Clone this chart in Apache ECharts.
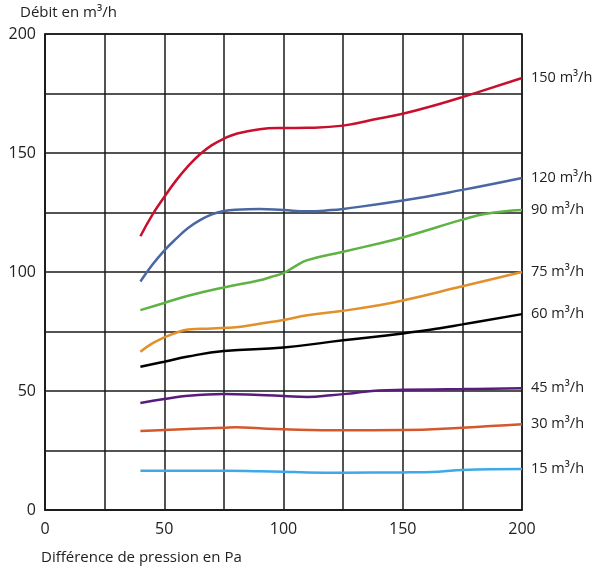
<!DOCTYPE html>
<html><head><meta charset="utf-8">
<script src="https://cdn.jsdelivr.net/npm/echarts@6/dist/echarts.min.js"></script>
<style>html,body{margin:0;padding:0;background:#fff}#c{width:595px;height:571px}</style>
</head><body><div id="c"></div>
<script>
var xTicks = [0, 50, 100, 150, 200];
var yTicks = [0, 50, 100, 150, 200];
var names = ['150 m³/h','120 m³/h','90 m³/h','75 m³/h','60 m³/h','45 m³/h','30 m³/h','15 m³/h'];
var colors = ['#c8102e','#4a67a3','#5fb244','#e38f2a','#000000','#581b7e','#d4582b','#3ea9e8'];
var s150 = [[40,115],[45,124],[50,131.5],[55,138.5],[60,144.5],[65,149.5],[70,153.3],[75,156],[80,158],[90,160],[100,160.5],[110,160.6],[125,161.5],[140,164.5],[150,166.5],[165,170.5],[175,173.5],[200,181.5]];
var s120 = [[40,96],[45,103],[50,109],[55,114],[60,118.5],[65,121.8],[70,124.2],[75,125.6],[80,126.2],[90,126.5],[100,126],[110,125.5],[120,126],[125,126.5],[150,130],[175,134.5],[200,139.5]];
var s90 = [[40,84],[50,87],[60,90],[75,93.5],[90,96.5],[95,98],[100,99.5],[105,102.5],[110,105],[125,108.5],[140,112],[150,114.5],[165,119],[175,122],[185,124.5],[200,126]];
var s75 = [[40,66.5],[45,70],[50,72.5],[55,74.5],[60,75.8],[70,76.3],[80,76.8],[90,78.3],[100,79.8],[110,81.8],[125,83.7],[140,86],[150,88],[175,94],[200,100]];
var s60 = [[40,60.2],[50,62.3],[60,64.5],[75,66.8],[100,68.3],[125,71.3],[150,74.2],[165,76.3],[175,78],[200,82.3]];
var s45 = [[40,45],[50,46.6],[60,48],[75,48.7],[90,48.3],[100,47.9],[110,47.5],[120,48.2],[130,49.2],[140,50.2],[150,50.5],[175,50.8],[200,51.2]];
var s30 = [[40,33.2],[50,33.6],[75,34.6],[80,34.8],[90,34.3],[100,33.9],[125,33.5],[150,33.6],[175,34.6],[200,36]];
var s15 = [[40,16.5],[75,16.5],[90,16.3],[100,16.1],[110,15.8],[125,15.7],[150,15.8],[165,16.1],[175,16.8],[200,17.2]];
var allData = [s150,s120,s90,s75,s60,s45,s30,s15];

var FONT = '"Open Sans", sans-serif';
var chart = echarts.init(document.getElementById('c'));
var series = allData.map(function(d,i){
  return {
    name: names[i], type: 'line', data: d, smooth: 0.45, showSymbol: false,
    lineStyle: {color: colors[i], width: 2.5},
    itemStyle: {color: colors[i]},
    endLabel: {show: true, formatter: '{a}', color: '#222', fontSize: 14.5, fontFamily: FONT, distance: 9, padding: [2,0,0,0]},
    silent: true, animation: false
  };
});
chart.setOption({
  animation: false,
  grid: {left: 45, right: 73, top: 34, bottom: 61, show: true, borderColor: '#1a1a1a', borderWidth: 1.5},
  graphic: [
    {type: 'text', left: 20, top: 5, style: {text: 'Débit en m³/h', fontSize: 15, fontFamily: FONT, fill: '#222'}},
    {type: 'text', left: 41, top: 550, style: {text: 'Différence de pression en Pa', fontSize: 15, fontFamily: FONT, fill: '#222'}}
  ],
  xAxis: {
    type: 'value', min: 0, max: 200, interval: 25,
    axisLine: {show: true, lineStyle: {color: '#1a1a1a', width: 1.5}},
    axisTick: {show: false},
    splitLine: {show: true, lineStyle: {color: '#1a1a1a', width: 1.5}},
    axisLabel: {color: '#222', fontSize: 16, fontFamily: FONT, margin: 11,
      formatter: function(v){ return xTicks.indexOf(v) >= 0 ? String(v) : ''; }}
  },
  yAxis: {
    type: 'value', min: 0, max: 200, interval: 25,
    axisLine: {show: true, lineStyle: {color: '#1a1a1a', width: 1.5}},
    axisTick: {show: false},
    splitLine: {show: true, lineStyle: {color: '#1a1a1a', width: 1.5}},
    axisLabel: {color: '#222', fontSize: 16, fontFamily: FONT, margin: 9, padding: [4,0,0,0],
      formatter: function(v){ return yTicks.indexOf(v) >= 0 ? String(v) : ''; }}
  },
  series: series
});
</script></body></html>
